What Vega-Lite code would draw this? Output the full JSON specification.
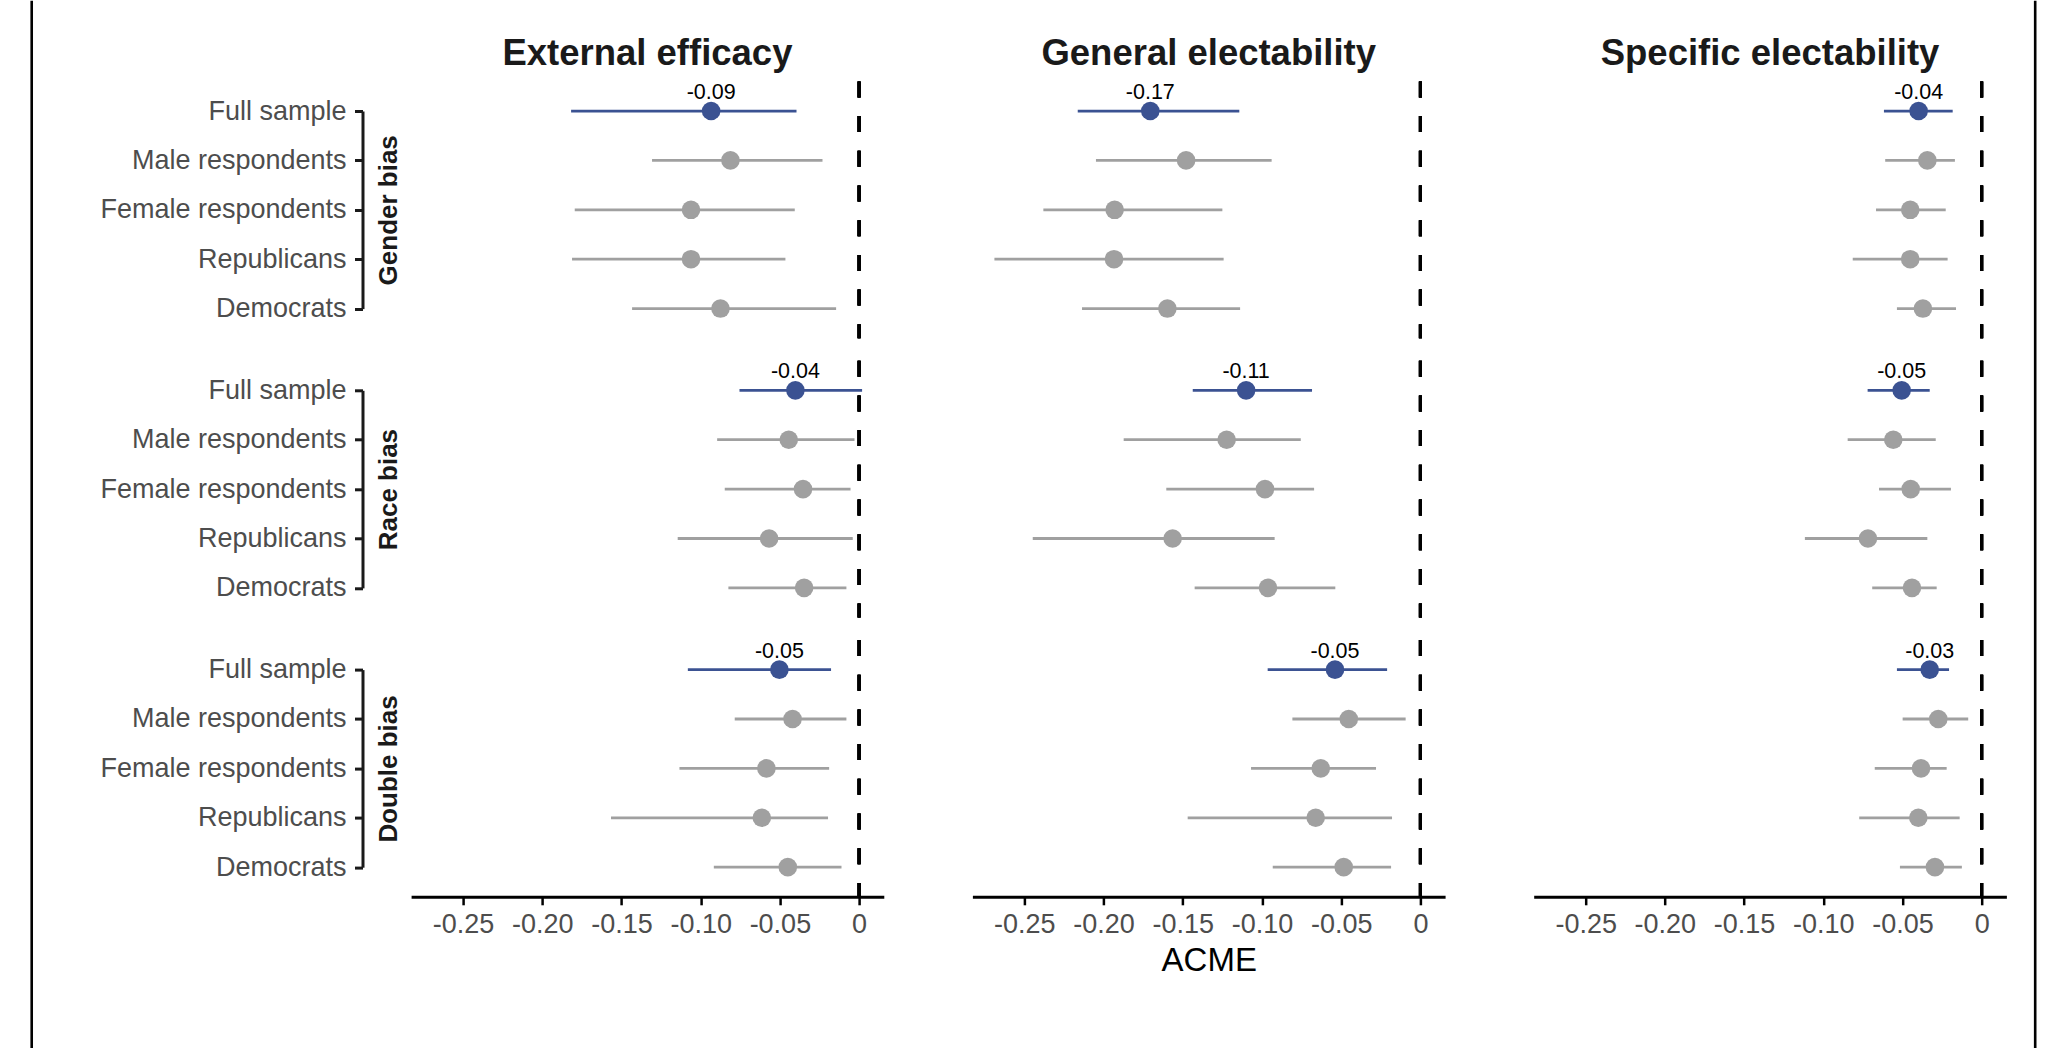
{
  "$schema": "https://vega.github.io/schema/vega-lite/v6.json",
  "background": "white",
  "padding": {"left": 29.7, "top": 0, "right": 5, "bottom": 5},
  "datasets": {
    "acme": [
      {"outcome": "External efficacy", "bias": "Gender bias", "group": "Full sample", "est": -0.0934, "lo": -0.1818, "hi": -0.0395},
      {"outcome": "External efficacy", "bias": "Gender bias", "group": "Male respondents", "est": -0.0812, "lo": -0.1307, "hi": -0.0231},
      {"outcome": "External efficacy", "bias": "Gender bias", "group": "Female respondents", "est": -0.1061, "lo": -0.1795, "hi": -0.0406},
      {"outcome": "External efficacy", "bias": "Gender bias", "group": "Republicans", "est": -0.1061, "lo": -0.1812, "hi": -0.0465},
      {"outcome": "External efficacy", "bias": "Gender bias", "group": "Democrats", "est": -0.0875, "lo": -0.1433, "hi": -0.0145},
      {"outcome": "External efficacy", "bias": "Race bias", "group": "Full sample", "est": -0.0402, "lo": -0.0755, "hi": 0.0019},
      {"outcome": "External efficacy", "bias": "Race bias", "group": "Male respondents", "est": -0.0444, "lo": -0.0896, "hi": -0.0029},
      {"outcome": "External efficacy", "bias": "Race bias", "group": "Female respondents", "est": -0.0354, "lo": -0.0848, "hi": -0.0054},
      {"outcome": "External efficacy", "bias": "Race bias", "group": "Republicans", "est": -0.0568, "lo": -0.1145, "hi": -0.0040},
      {"outcome": "External efficacy", "bias": "Race bias", "group": "Democrats", "est": -0.0347, "lo": -0.0825, "hi": -0.0080},
      {"outcome": "External efficacy", "bias": "Double bias", "group": "Full sample", "est": -0.0503, "lo": -0.1081, "hi": -0.0177},
      {"outcome": "External efficacy", "bias": "Double bias", "group": "Male respondents", "est": -0.0420, "lo": -0.0785, "hi": -0.0080},
      {"outcome": "External efficacy", "bias": "Double bias", "group": "Female respondents", "est": -0.0585, "lo": -0.1134, "hi": -0.0189},
      {"outcome": "External efficacy", "bias": "Double bias", "group": "Republicans", "est": -0.0614, "lo": -0.1566, "hi": -0.0196},
      {"outcome": "External efficacy", "bias": "Double bias", "group": "Democrats", "est": -0.0450, "lo": -0.0917, "hi": -0.0111},
      {"outcome": "General electability", "bias": "Gender bias", "group": "Full sample", "est": -0.1705, "lo": -0.2163, "hi": -0.1143},
      {"outcome": "General electability", "bias": "Gender bias", "group": "Male respondents", "est": -0.1479, "lo": -0.2048, "hi": -0.0939},
      {"outcome": "General electability", "bias": "Gender bias", "group": "Female respondents", "est": -0.1930, "lo": -0.2380, "hi": -0.1250},
      {"outcome": "General electability", "bias": "Gender bias", "group": "Republicans", "est": -0.1934, "lo": -0.2689, "hi": -0.1242},
      {"outcome": "General electability", "bias": "Gender bias", "group": "Democrats", "est": -0.1597, "lo": -0.2136, "hi": -0.1138},
      {"outcome": "General electability", "bias": "Race bias", "group": "Full sample", "est": -0.1100, "lo": -0.1437, "hi": -0.0684},
      {"outcome": "General electability", "bias": "Race bias", "group": "Male respondents", "est": -0.1223, "lo": -0.1873, "hi": -0.0755},
      {"outcome": "General electability", "bias": "Race bias", "group": "Female respondents", "est": -0.0981, "lo": -0.1604, "hi": -0.0671},
      {"outcome": "General electability", "bias": "Race bias", "group": "Republicans", "est": -0.1564, "lo": -0.2447, "hi": -0.0920},
      {"outcome": "General electability", "bias": "Race bias", "group": "Democrats", "est": -0.0962, "lo": -0.1425, "hi": -0.0537},
      {"outcome": "General electability", "bias": "Double bias", "group": "Full sample", "est": -0.0539, "lo": -0.0964, "hi": -0.0210},
      {"outcome": "General electability", "bias": "Double bias", "group": "Male respondents", "est": -0.0452, "lo": -0.0808, "hi": -0.0093},
      {"outcome": "General electability", "bias": "Double bias", "group": "Female respondents", "est": -0.0629, "lo": -0.1069, "hi": -0.0280},
      {"outcome": "General electability", "bias": "Double bias", "group": "Republicans", "est": -0.0661, "lo": -0.1469, "hi": -0.0179},
      {"outcome": "General electability", "bias": "Double bias", "group": "Democrats", "est": -0.0484, "lo": -0.0932, "hi": -0.0185},
      {"outcome": "Specific electability", "bias": "Gender bias", "group": "Full sample", "est": -0.0398, "lo": -0.0617, "hi": -0.0183},
      {"outcome": "Specific electability", "bias": "Gender bias", "group": "Male respondents", "est": -0.0343, "lo": -0.0609, "hi": -0.0169},
      {"outcome": "Specific electability", "bias": "Gender bias", "group": "Female respondents", "est": -0.0451, "lo": -0.0667, "hi": -0.0227},
      {"outcome": "Specific electability", "bias": "Gender bias", "group": "Republicans", "est": -0.0451, "lo": -0.0814, "hi": -0.0215},
      {"outcome": "Specific electability", "bias": "Gender bias", "group": "Democrats", "est": -0.0371, "lo": -0.0535, "hi": -0.0162},
      {"outcome": "Specific electability", "bias": "Race bias", "group": "Full sample", "est": -0.0505, "lo": -0.0720, "hi": -0.0328},
      {"outcome": "Specific electability", "bias": "Race bias", "group": "Male respondents", "est": -0.0558, "lo": -0.0846, "hi": -0.0290},
      {"outcome": "Specific electability", "bias": "Race bias", "group": "Female respondents", "est": -0.0448, "lo": -0.0648, "hi": -0.0194},
      {"outcome": "Specific electability", "bias": "Race bias", "group": "Republicans", "est": -0.0718, "lo": -0.1116, "hi": -0.0343},
      {"outcome": "Specific electability", "bias": "Race bias", "group": "Democrats", "est": -0.0440, "lo": -0.0691, "hi": -0.0284},
      {"outcome": "Specific electability", "bias": "Double bias", "group": "Full sample", "est": -0.0328, "lo": -0.0535, "hi": -0.0206},
      {"outcome": "Specific electability", "bias": "Double bias", "group": "Male respondents", "est": -0.0274, "lo": -0.0499, "hi": -0.0085},
      {"outcome": "Specific electability", "bias": "Double bias", "group": "Female respondents", "est": -0.0383, "lo": -0.0675, "hi": -0.0221},
      {"outcome": "Specific electability", "bias": "Double bias", "group": "Republicans", "est": -0.0400, "lo": -0.0773, "hi": -0.0139},
      {"outcome": "Specific electability", "bias": "Double bias", "group": "Democrats", "est": -0.0295, "lo": -0.0516, "hi": -0.0125}
    ],
    "rows": [
      {"group": "Full sample"},
      {"group": "Male respondents"},
      {"group": "Female respondents"},
      {"group": "Republicans"},
      {"group": "Democrats"}
    ]
  },
  "hconcat": [
    {
      "hconcat": [
        {
          "width": 0.01, "height": 1048,
          "data": {"values": []},
          "mark": "point",
          "view": {"stroke": "#000", "strokeWidth": 2.6}
        },
        {
          "vconcat": [
            {
              "width": 1, "height": 14.7,
              "data": {"values": []},
              "mark": "point",
              "view": {"fill": "white"}
            },
            {
              "hconcat": [
                {
                  "width": 1, "height": 197.6,
                  "data": {"name": "rows"},
                  "mark": {"type": "point", "opacity": 0},
                  "encoding": {
                    "y": {"field": "group", "type": "nominal", "scale": {"type": "point", "domain": ["Full sample", "Male respondents", "Female respondents", "Republicans", "Democrats"], "padding": 0},
                      "axis": {"title": "Gender bias", "offset": -40.7, "titleX": 26.3, "titleY": 98.8, "titleAngle": 270, "titleAlign": "center", "titleBaseline": "middle", "titleFontSize": 26, "titleFontWeight": "bold", "titleColor": "#1a1a1a", "labelFontSize": 27, "labelColor": "#4d4d4d", "labelPadding": 8.5, "labelLimit": 400, "tickSize": 8, "tickWidth": 3, "tickColor": "#1a1a1a", "domainWidth": 3, "domainColor": "#1a1a1a"}}
                  }
                },
                {
                  "width": 472.7, "height": 256.8,
                  "title": {"text": "External efficacy", "fontSize": 36.5, "fontWeight": "bold", "color": "#1a1a1a", "baseline": "alphabetic", "offset": -21.8},
                  "data": {"name": "acme"},
                  "transform": [{"filter": "datum.outcome === 'External efficacy' && datum.bias === 'Gender bias'"}],
                  "layer": [
                    {"mark": {"type": "rule", "color": "#000", "strokeWidth": 3, "strokeDash": [16, 18.7]},
                     "encoding": {"x": {"datum": 0, "type": "quantitative", "scale": {"domain": [-0.2828, 0.0156], "nice": false, "zero": false}, "axis": null}}},
                    {"mark": {"type": "rule", "strokeWidth": 2.8},
                     "encoding": {"x": {"field": "lo", "type": "quantitative", "scale": {"domain": [-0.2828, 0.0156], "nice": false, "zero": false}, "axis": null}, "x2": {"field": "hi"},
                       "y": {"field": "group", "type": "nominal", "scale": {"type": "point", "domain": ["Full sample", "Male respondents", "Female respondents", "Republicans", "Democrats"], "padding": 0.6}, "axis": null},
                       "color": {"condition": {"test": "datum.group === 'Full sample'", "value": "#3b5292"}, "value": "#a0a0a0"}}},
                    {"mark": {"type": "circle", "size": 346, "opacity": 1},
                     "encoding": {"x": {"field": "est", "type": "quantitative", "scale": {"domain": [-0.2828, 0.0156], "nice": false, "zero": false}, "axis": null},
                       "y": {"field": "group", "type": "nominal", "scale": {"type": "point", "domain": ["Full sample", "Male respondents", "Female respondents", "Republicans", "Democrats"], "padding": 0.6}, "axis": null},
                       "color": {"condition": {"test": "datum.group === 'Full sample'", "value": "#3b5292"}, "value": "#a0a0a0"}}},
                    {"transform": [{"filter": "datum.group === 'Full sample'"}],
                     "mark": {"type": "text", "fontSize": 21.5, "baseline": "alphabetic", "dy": -12, "color": "#000"},
                     "encoding": {"x": {"field": "est", "type": "quantitative", "scale": {"domain": [-0.2828, 0.0156], "nice": false, "zero": false}, "axis": null},
                       "y": {"field": "group", "type": "nominal", "scale": {"type": "point", "domain": ["Full sample", "Male respondents", "Female respondents", "Republicans", "Democrats"], "padding": 0.6}, "axis": null},
                       "text": {"field": "est", "format": ".2f"}}}
                  ]
                },
                {
                  "width": 472.7, "height": 256.8,
                  "title": {"text": "General electability", "fontSize": 36.5, "fontWeight": "bold", "color": "#1a1a1a", "baseline": "alphabetic", "offset": -21.8},
                  "data": {"name": "acme"},
                  "transform": [{"filter": "datum.outcome === 'General electability' && datum.bias === 'Gender bias'"}],
                  "layer": [
                    {"mark": {"type": "rule", "color": "#000", "strokeWidth": 3, "strokeDash": [16, 18.7]},
                     "encoding": {"x": {"datum": 0, "type": "quantitative", "scale": {"domain": [-0.2828, 0.0156], "nice": false, "zero": false}, "axis": null}}},
                    {"mark": {"type": "rule", "strokeWidth": 2.8},
                     "encoding": {"x": {"field": "lo", "type": "quantitative", "scale": {"domain": [-0.2828, 0.0156], "nice": false, "zero": false}, "axis": null}, "x2": {"field": "hi"},
                       "y": {"field": "group", "type": "nominal", "scale": {"type": "point", "domain": ["Full sample", "Male respondents", "Female respondents", "Republicans", "Democrats"], "padding": 0.6}, "axis": null},
                       "color": {"condition": {"test": "datum.group === 'Full sample'", "value": "#3b5292"}, "value": "#a0a0a0"}}},
                    {"mark": {"type": "circle", "size": 346, "opacity": 1},
                     "encoding": {"x": {"field": "est", "type": "quantitative", "scale": {"domain": [-0.2828, 0.0156], "nice": false, "zero": false}, "axis": null},
                       "y": {"field": "group", "type": "nominal", "scale": {"type": "point", "domain": ["Full sample", "Male respondents", "Female respondents", "Republicans", "Democrats"], "padding": 0.6}, "axis": null},
                       "color": {"condition": {"test": "datum.group === 'Full sample'", "value": "#3b5292"}, "value": "#a0a0a0"}}},
                    {"transform": [{"filter": "datum.group === 'Full sample'"}],
                     "mark": {"type": "text", "fontSize": 21.5, "baseline": "alphabetic", "dy": -12, "color": "#000"},
                     "encoding": {"x": {"field": "est", "type": "quantitative", "scale": {"domain": [-0.2828, 0.0156], "nice": false, "zero": false}, "axis": null},
                       "y": {"field": "group", "type": "nominal", "scale": {"type": "point", "domain": ["Full sample", "Male respondents", "Female respondents", "Republicans", "Democrats"], "padding": 0.6}, "axis": null},
                       "text": {"field": "est", "format": ".2f"}}}
                  ]
                },
                {
                  "width": 472.7, "height": 256.8,
                  "title": {"text": "Specific electability", "fontSize": 36.5, "fontWeight": "bold", "color": "#1a1a1a", "baseline": "alphabetic", "offset": -21.8},
                  "data": {"name": "acme"},
                  "transform": [{"filter": "datum.outcome === 'Specific electability' && datum.bias === 'Gender bias'"}],
                  "layer": [
                    {"mark": {"type": "rule", "color": "#000", "strokeWidth": 3, "strokeDash": [16, 18.7]},
                     "encoding": {"x": {"datum": 0, "type": "quantitative", "scale": {"domain": [-0.2828, 0.0156], "nice": false, "zero": false}, "axis": null}}},
                    {"mark": {"type": "rule", "strokeWidth": 2.8},
                     "encoding": {"x": {"field": "lo", "type": "quantitative", "scale": {"domain": [-0.2828, 0.0156], "nice": false, "zero": false}, "axis": null}, "x2": {"field": "hi"},
                       "y": {"field": "group", "type": "nominal", "scale": {"type": "point", "domain": ["Full sample", "Male respondents", "Female respondents", "Republicans", "Democrats"], "padding": 0.6}, "axis": null},
                       "color": {"condition": {"test": "datum.group === 'Full sample'", "value": "#3b5292"}, "value": "#a0a0a0"}}},
                    {"mark": {"type": "circle", "size": 346, "opacity": 1},
                     "encoding": {"x": {"field": "est", "type": "quantitative", "scale": {"domain": [-0.2828, 0.0156], "nice": false, "zero": false}, "axis": null},
                       "y": {"field": "group", "type": "nominal", "scale": {"type": "point", "domain": ["Full sample", "Male respondents", "Female respondents", "Republicans", "Democrats"], "padding": 0.6}, "axis": null},
                       "color": {"condition": {"test": "datum.group === 'Full sample'", "value": "#3b5292"}, "value": "#a0a0a0"}}},
                    {"transform": [{"filter": "datum.group === 'Full sample'"}],
                     "mark": {"type": "text", "fontSize": 21.5, "baseline": "alphabetic", "dy": -12, "color": "#000"},
                     "encoding": {"x": {"field": "est", "type": "quantitative", "scale": {"domain": [-0.2828, 0.0156], "nice": false, "zero": false}, "axis": null},
                       "y": {"field": "group", "type": "nominal", "scale": {"type": "point", "domain": ["Full sample", "Male respondents", "Female respondents", "Republicans", "Democrats"], "padding": 0.6}, "axis": null},
                       "text": {"field": "est", "format": ".2f"}}}
                  ]
                }
              ],
              "spacing": 88.3, "bounds": "flush", "center": true
            },
            {
              "hconcat": [
                {
                  "width": 1, "height": 197.6,
                  "data": {"name": "rows"},
                  "mark": {"type": "point", "opacity": 0},
                  "encoding": {
                    "y": {"field": "group", "type": "nominal", "scale": {"type": "point", "domain": ["Full sample", "Male respondents", "Female respondents", "Republicans", "Democrats"], "padding": 0},
                      "axis": {"title": "Race bias", "offset": -40.7, "titleX": 26.3, "titleY": 98.8, "titleAngle": 270, "titleAlign": "center", "titleBaseline": "middle", "titleFontSize": 26, "titleFontWeight": "bold", "titleColor": "#1a1a1a", "labelFontSize": 27, "labelColor": "#4d4d4d", "labelPadding": 8.5, "labelLimit": 400, "tickSize": 8, "tickWidth": 3, "tickColor": "#1a1a1a", "domainWidth": 3, "domainColor": "#1a1a1a"}}
                  }
                },
                {
                  "width": 472.7, "height": 256.8,
                  "data": {"name": "acme"},
                  "transform": [{"filter": "datum.outcome === 'External efficacy' && datum.bias === 'Race bias'"}],
                  "layer": [
                    {"mark": {"type": "rule", "color": "#000", "strokeWidth": 3, "strokeDash": [16, 18.7]},
                     "encoding": {"x": {"datum": 0, "type": "quantitative", "scale": {"domain": [-0.2828, 0.0156], "nice": false, "zero": false}, "axis": null}}},
                    {"mark": {"type": "rule", "strokeWidth": 2.8},
                     "encoding": {"x": {"field": "lo", "type": "quantitative", "scale": {"domain": [-0.2828, 0.0156], "nice": false, "zero": false}, "axis": null}, "x2": {"field": "hi"},
                       "y": {"field": "group", "type": "nominal", "scale": {"type": "point", "domain": ["Full sample", "Male respondents", "Female respondents", "Republicans", "Democrats"], "padding": 0.6}, "axis": null},
                       "color": {"condition": {"test": "datum.group === 'Full sample'", "value": "#3b5292"}, "value": "#a0a0a0"}}},
                    {"mark": {"type": "circle", "size": 346, "opacity": 1},
                     "encoding": {"x": {"field": "est", "type": "quantitative", "scale": {"domain": [-0.2828, 0.0156], "nice": false, "zero": false}, "axis": null},
                       "y": {"field": "group", "type": "nominal", "scale": {"type": "point", "domain": ["Full sample", "Male respondents", "Female respondents", "Republicans", "Democrats"], "padding": 0.6}, "axis": null},
                       "color": {"condition": {"test": "datum.group === 'Full sample'", "value": "#3b5292"}, "value": "#a0a0a0"}}},
                    {"transform": [{"filter": "datum.group === 'Full sample'"}],
                     "mark": {"type": "text", "fontSize": 21.5, "baseline": "alphabetic", "dy": -12, "color": "#000"},
                     "encoding": {"x": {"field": "est", "type": "quantitative", "scale": {"domain": [-0.2828, 0.0156], "nice": false, "zero": false}, "axis": null},
                       "y": {"field": "group", "type": "nominal", "scale": {"type": "point", "domain": ["Full sample", "Male respondents", "Female respondents", "Republicans", "Democrats"], "padding": 0.6}, "axis": null},
                       "text": {"field": "est", "format": ".2f"}}}
                  ]
                },
                {
                  "width": 472.7, "height": 256.8,
                  "data": {"name": "acme"},
                  "transform": [{"filter": "datum.outcome === 'General electability' && datum.bias === 'Race bias'"}],
                  "layer": [
                    {"mark": {"type": "rule", "color": "#000", "strokeWidth": 3, "strokeDash": [16, 18.7]},
                     "encoding": {"x": {"datum": 0, "type": "quantitative", "scale": {"domain": [-0.2828, 0.0156], "nice": false, "zero": false}, "axis": null}}},
                    {"mark": {"type": "rule", "strokeWidth": 2.8},
                     "encoding": {"x": {"field": "lo", "type": "quantitative", "scale": {"domain": [-0.2828, 0.0156], "nice": false, "zero": false}, "axis": null}, "x2": {"field": "hi"},
                       "y": {"field": "group", "type": "nominal", "scale": {"type": "point", "domain": ["Full sample", "Male respondents", "Female respondents", "Republicans", "Democrats"], "padding": 0.6}, "axis": null},
                       "color": {"condition": {"test": "datum.group === 'Full sample'", "value": "#3b5292"}, "value": "#a0a0a0"}}},
                    {"mark": {"type": "circle", "size": 346, "opacity": 1},
                     "encoding": {"x": {"field": "est", "type": "quantitative", "scale": {"domain": [-0.2828, 0.0156], "nice": false, "zero": false}, "axis": null},
                       "y": {"field": "group", "type": "nominal", "scale": {"type": "point", "domain": ["Full sample", "Male respondents", "Female respondents", "Republicans", "Democrats"], "padding": 0.6}, "axis": null},
                       "color": {"condition": {"test": "datum.group === 'Full sample'", "value": "#3b5292"}, "value": "#a0a0a0"}}},
                    {"transform": [{"filter": "datum.group === 'Full sample'"}],
                     "mark": {"type": "text", "fontSize": 21.5, "baseline": "alphabetic", "dy": -12, "color": "#000"},
                     "encoding": {"x": {"field": "est", "type": "quantitative", "scale": {"domain": [-0.2828, 0.0156], "nice": false, "zero": false}, "axis": null},
                       "y": {"field": "group", "type": "nominal", "scale": {"type": "point", "domain": ["Full sample", "Male respondents", "Female respondents", "Republicans", "Democrats"], "padding": 0.6}, "axis": null},
                       "text": {"field": "est", "format": ".2f"}}}
                  ]
                },
                {
                  "width": 472.7, "height": 256.8,
                  "data": {"name": "acme"},
                  "transform": [{"filter": "datum.outcome === 'Specific electability' && datum.bias === 'Race bias'"}],
                  "layer": [
                    {"mark": {"type": "rule", "color": "#000", "strokeWidth": 3, "strokeDash": [16, 18.7]},
                     "encoding": {"x": {"datum": 0, "type": "quantitative", "scale": {"domain": [-0.2828, 0.0156], "nice": false, "zero": false}, "axis": null}}},
                    {"mark": {"type": "rule", "strokeWidth": 2.8},
                     "encoding": {"x": {"field": "lo", "type": "quantitative", "scale": {"domain": [-0.2828, 0.0156], "nice": false, "zero": false}, "axis": null}, "x2": {"field": "hi"},
                       "y": {"field": "group", "type": "nominal", "scale": {"type": "point", "domain": ["Full sample", "Male respondents", "Female respondents", "Republicans", "Democrats"], "padding": 0.6}, "axis": null},
                       "color": {"condition": {"test": "datum.group === 'Full sample'", "value": "#3b5292"}, "value": "#a0a0a0"}}},
                    {"mark": {"type": "circle", "size": 346, "opacity": 1},
                     "encoding": {"x": {"field": "est", "type": "quantitative", "scale": {"domain": [-0.2828, 0.0156], "nice": false, "zero": false}, "axis": null},
                       "y": {"field": "group", "type": "nominal", "scale": {"type": "point", "domain": ["Full sample", "Male respondents", "Female respondents", "Republicans", "Democrats"], "padding": 0.6}, "axis": null},
                       "color": {"condition": {"test": "datum.group === 'Full sample'", "value": "#3b5292"}, "value": "#a0a0a0"}}},
                    {"transform": [{"filter": "datum.group === 'Full sample'"}],
                     "mark": {"type": "text", "fontSize": 21.5, "baseline": "alphabetic", "dy": -12, "color": "#000"},
                     "encoding": {"x": {"field": "est", "type": "quantitative", "scale": {"domain": [-0.2828, 0.0156], "nice": false, "zero": false}, "axis": null},
                       "y": {"field": "group", "type": "nominal", "scale": {"type": "point", "domain": ["Full sample", "Male respondents", "Female respondents", "Republicans", "Democrats"], "padding": 0.6}, "axis": null},
                       "text": {"field": "est", "format": ".2f"}}}
                  ]
                }
              ],
              "spacing": 88.3, "bounds": "flush", "center": true
            },
            {
              "hconcat": [
                {
                  "width": 1, "height": 197.6,
                  "data": {"name": "rows"},
                  "mark": {"type": "point", "opacity": 0},
                  "encoding": {
                    "y": {"field": "group", "type": "nominal", "scale": {"type": "point", "domain": ["Full sample", "Male respondents", "Female respondents", "Republicans", "Democrats"], "padding": 0},
                      "axis": {"title": "Double bias", "offset": -40.7, "titleX": 26.3, "titleY": 98.8, "titleAngle": 270, "titleAlign": "center", "titleBaseline": "middle", "titleFontSize": 26, "titleFontWeight": "bold", "titleColor": "#1a1a1a", "labelFontSize": 27, "labelColor": "#4d4d4d", "labelPadding": 8.5, "labelLimit": 400, "tickSize": 8, "tickWidth": 3, "tickColor": "#1a1a1a", "domainWidth": 3, "domainColor": "#1a1a1a"}}
                  }
                },
                {
                  "width": 472.7, "height": 256.8,
                  "data": {"name": "acme"},
                  "transform": [{"filter": "datum.outcome === 'External efficacy' && datum.bias === 'Double bias'"}],
                  "layer": [
                    {"mark": {"type": "rule", "color": "#000", "strokeWidth": 3, "strokeDash": [16, 18.7]},
                     "encoding": {"x": {"datum": 0, "type": "quantitative", "scale": {"domain": [-0.2828, 0.0156], "nice": false, "zero": false}}}},
                    {"mark": {"type": "rule", "strokeWidth": 2.8},
                     "encoding": {"x": {"field": "lo", "type": "quantitative", "scale": {"domain": [-0.2828, 0.0156], "nice": false, "zero": false}}, "x2": {"field": "hi"},
                       "y": {"field": "group", "type": "nominal", "scale": {"type": "point", "domain": ["Full sample", "Male respondents", "Female respondents", "Republicans", "Democrats"], "padding": 0.6}, "axis": null},
                       "color": {"condition": {"test": "datum.group === 'Full sample'", "value": "#3b5292"}, "value": "#a0a0a0"}}},
                    {"mark": {"type": "circle", "size": 346, "opacity": 1},
                     "encoding": {"x": {"field": "est", "type": "quantitative", "scale": {"domain": [-0.2828, 0.0156], "nice": false, "zero": false},
                       "axis": {"values": [-0.25, -0.2, -0.15, -0.1, -0.05, 0], "labelExpr": "datum.value === 0 ? '0' : format(datum.value, '.2f')", "title": null, "labelFontSize": 27, "labelColor": "#4d4d4d", "labelPadding": 7, "labelFlush": false, "labelOverlap": false, "tickSize": 8, "tickWidth": 2.5, "tickColor": "#000", "domainColor": "#000", "domainWidth": 3}},
                       "y": {"field": "group", "type": "nominal", "scale": {"type": "point", "domain": ["Full sample", "Male respondents", "Female respondents", "Republicans", "Democrats"], "padding": 0.6}, "axis": null},
                       "color": {"condition": {"test": "datum.group === 'Full sample'", "value": "#3b5292"}, "value": "#a0a0a0"}}},
                    {"transform": [{"filter": "datum.group === 'Full sample'"}],
                     "mark": {"type": "text", "fontSize": 21.5, "baseline": "alphabetic", "dy": -12, "color": "#000"},
                     "encoding": {"x": {"field": "est", "type": "quantitative", "scale": {"domain": [-0.2828, 0.0156], "nice": false, "zero": false}},
                       "y": {"field": "group", "type": "nominal", "scale": {"type": "point", "domain": ["Full sample", "Male respondents", "Female respondents", "Republicans", "Democrats"], "padding": 0.6}, "axis": null},
                       "text": {"field": "est", "format": ".2f"}}}
                  ]
                },
                {
                  "width": 472.7, "height": 256.8,
                  "data": {"name": "acme"},
                  "transform": [{"filter": "datum.outcome === 'General electability' && datum.bias === 'Double bias'"}],
                  "layer": [
                    {"mark": {"type": "rule", "color": "#000", "strokeWidth": 3, "strokeDash": [16, 18.7]},
                     "encoding": {"x": {"datum": 0, "type": "quantitative", "scale": {"domain": [-0.2828, 0.0156], "nice": false, "zero": false}}}},
                    {"mark": {"type": "rule", "strokeWidth": 2.8},
                     "encoding": {"x": {"field": "lo", "type": "quantitative", "scale": {"domain": [-0.2828, 0.0156], "nice": false, "zero": false}}, "x2": {"field": "hi"},
                       "y": {"field": "group", "type": "nominal", "scale": {"type": "point", "domain": ["Full sample", "Male respondents", "Female respondents", "Republicans", "Democrats"], "padding": 0.6}, "axis": null},
                       "color": {"condition": {"test": "datum.group === 'Full sample'", "value": "#3b5292"}, "value": "#a0a0a0"}}},
                    {"mark": {"type": "circle", "size": 346, "opacity": 1},
                     "encoding": {"x": {"field": "est", "type": "quantitative", "scale": {"domain": [-0.2828, 0.0156], "nice": false, "zero": false},
                       "axis": {"values": [-0.25, -0.2, -0.15, -0.1, -0.05, 0], "labelExpr": "datum.value === 0 ? '0' : format(datum.value, '.2f')", "title": "ACME", "titleFontSize": 33, "titleFontWeight": "normal", "titleColor": "#000", "titlePadding": 7, "labelFontSize": 27, "labelColor": "#4d4d4d", "labelPadding": 7, "labelFlush": false, "labelOverlap": false, "tickSize": 8, "tickWidth": 2.5, "tickColor": "#000", "domainColor": "#000", "domainWidth": 3}},
                       "y": {"field": "group", "type": "nominal", "scale": {"type": "point", "domain": ["Full sample", "Male respondents", "Female respondents", "Republicans", "Democrats"], "padding": 0.6}, "axis": null},
                       "color": {"condition": {"test": "datum.group === 'Full sample'", "value": "#3b5292"}, "value": "#a0a0a0"}}},
                    {"transform": [{"filter": "datum.group === 'Full sample'"}],
                     "mark": {"type": "text", "fontSize": 21.5, "baseline": "alphabetic", "dy": -12, "color": "#000"},
                     "encoding": {"x": {"field": "est", "type": "quantitative", "scale": {"domain": [-0.2828, 0.0156], "nice": false, "zero": false}},
                       "y": {"field": "group", "type": "nominal", "scale": {"type": "point", "domain": ["Full sample", "Male respondents", "Female respondents", "Republicans", "Democrats"], "padding": 0.6}, "axis": null},
                       "text": {"field": "est", "format": ".2f"}}}
                  ]
                },
                {
                  "width": 472.7, "height": 256.8,
                  "data": {"name": "acme"},
                  "transform": [{"filter": "datum.outcome === 'Specific electability' && datum.bias === 'Double bias'"}],
                  "layer": [
                    {"mark": {"type": "rule", "color": "#000", "strokeWidth": 3, "strokeDash": [16, 18.7]},
                     "encoding": {"x": {"datum": 0, "type": "quantitative", "scale": {"domain": [-0.2828, 0.0156], "nice": false, "zero": false}}}},
                    {"mark": {"type": "rule", "strokeWidth": 2.8},
                     "encoding": {"x": {"field": "lo", "type": "quantitative", "scale": {"domain": [-0.2828, 0.0156], "nice": false, "zero": false}}, "x2": {"field": "hi"},
                       "y": {"field": "group", "type": "nominal", "scale": {"type": "point", "domain": ["Full sample", "Male respondents", "Female respondents", "Republicans", "Democrats"], "padding": 0.6}, "axis": null},
                       "color": {"condition": {"test": "datum.group === 'Full sample'", "value": "#3b5292"}, "value": "#a0a0a0"}}},
                    {"mark": {"type": "circle", "size": 346, "opacity": 1},
                     "encoding": {"x": {"field": "est", "type": "quantitative", "scale": {"domain": [-0.2828, 0.0156], "nice": false, "zero": false},
                       "axis": {"values": [-0.25, -0.2, -0.15, -0.1, -0.05, 0], "labelExpr": "datum.value === 0 ? '0' : format(datum.value, '.2f')", "title": null, "labelFontSize": 27, "labelColor": "#4d4d4d", "labelPadding": 7, "labelFlush": false, "labelOverlap": false, "tickSize": 8, "tickWidth": 2.5, "tickColor": "#000", "domainColor": "#000", "domainWidth": 3}},
                       "y": {"field": "group", "type": "nominal", "scale": {"type": "point", "domain": ["Full sample", "Male respondents", "Female respondents", "Republicans", "Democrats"], "padding": 0.6}, "axis": null},
                       "color": {"condition": {"test": "datum.group === 'Full sample'", "value": "#3b5292"}, "value": "#a0a0a0"}}},
                    {"transform": [{"filter": "datum.group === 'Full sample'"}],
                     "mark": {"type": "text", "fontSize": 21.5, "baseline": "alphabetic", "dy": -12, "color": "#000"},
                     "encoding": {"x": {"field": "est", "type": "quantitative", "scale": {"domain": [-0.2828, 0.0156], "nice": false, "zero": false}},
                       "y": {"field": "group", "type": "nominal", "scale": {"type": "point", "domain": ["Full sample", "Male respondents", "Female respondents", "Republicans", "Democrats"], "padding": 0.6}, "axis": null},
                       "text": {"field": "est", "format": ".2f"}}}
                  ]
                }
              ],
              "spacing": 88.3, "bounds": "flush", "center": true
            }
          ],
          "spacing": 18.3
        }
      ],
      "spacing": 66.1
    },
    {
      "width": 0.01, "height": 1048,
      "data": {"values": []},
      "mark": "point",
      "view": {"stroke": "#000", "strokeWidth": 2.6}
    }
  ],
  "spacing": 26.5,
  "config": {
    "font": "Liberation Sans",
    "locale": {"number": {"decimal": ".", "thousands": ",", "grouping": [3], "currency": ["$", ""], "minus": "-"}},
    "view": {"stroke": null},
    "axis": {"grid": false}
  }
}
